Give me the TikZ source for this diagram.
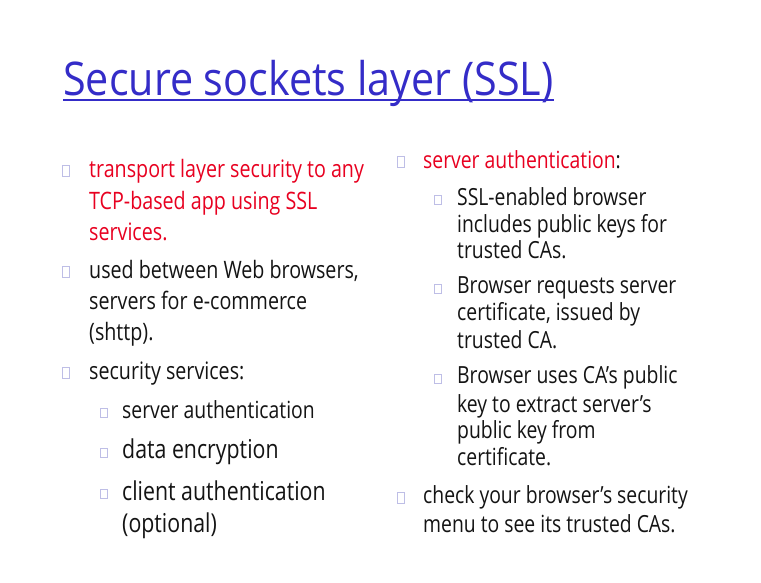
\documentclass[tikz,border=0pt]{standalone}
\usepackage{fontspec}
\newfontfamily\titlefont[FakeStretch=0.89]{Open Sans}
\newfontfamily\bodyfont[FakeStretch=0.82]{Open Sans}
\definecolor{titleblue}{RGB}{52,44,200}
\definecolor{slidered}{RGB}{232,0,32}
\definecolor{bodyblack}{RGB}{20,20,20}
\definecolor{bulletcol}{RGB}{190,190,230}
\tikzset{
  ln/.style={anchor=base west, inner sep=0pt, text=bodyblack},
  lA/.style={ln, font=\bodyfont\fontsize{24}{28}\selectfont},
  lB/.style={ln, font=\bodyfont\fontsize{23.6}{28}\selectfont},
  lC/.style={ln, font=\bodyfont\fontsize{26}{30}\selectfont},
  bulA/.style={draw=bulletcol, line width=0.7pt, minimum width=7.5pt, minimum height=10.5pt, inner sep=0pt},
  bulB/.style={draw=bulletcol, line width=0.7pt, minimum width=6.5pt, minimum height=9pt, inner sep=0pt},
}
\begin{document}
\begin{tikzpicture}[x=1pt,y=-1pt]
\useasboundingbox[fill=white] (0,0) rectangle (761,582);
% title
\node[anchor=base west, inner sep=0pt, text=titleblue, font=\titlefont\fontsize{46.4}{52}\selectfont] (title) at (63,95) {Secure sockets layer (SSL)};
\draw[titleblue, line width=1.6pt] ([yshift=-5pt]title.base west) -- ([yshift=-5pt]title.base east);
% left column
\node[bulA] (bl1) at (66,171) {};
\node[lA, text=slidered] (l1) at (89,177) {transport layer security to any};
\node[lA, text=slidered] (l2) at (89,209) {TCP-based app using SSL};
\node[lA, text=slidered] (l3) at (89,240) {services.};
\node[bulA] (bl2) at (66,272) {};
\node[lA] (l4) at (89,278) {used between Web browsers,};
\node[lA] (l5) at (89,309) {servers for e-commerce};
\node[lA] (l6) at (89,340) {(shttp).};
\node[bulA] (bl3) at (66,373) {};
\node[lA] (l7) at (89,379) {security services:};
\node[bulB] (bs1) at (104,413) {};
\node[lB] (l8) at (122,418) {server authentication};
\node[bulB] (bs2) at (104,453) {};
\node[lC] (l9) at (122,458) {data encryption};
\node[bulB] (bs3) at (104,494) {};
\node[lC] (l10) at (122,500) {client authentication};
\node[lC] (l11) at (122,532) {(optional)};
% right column
\node[bulA] (br1) at (401,162) {};
\node[lB, text=slidered] (r1) at (423,168) {server authentication\textcolor{bodyblack}{:}};
\node[bulB] (bs4) at (438,200) {};
\node[lB] (r2) at (457,205) {SSL-enabled browser};
\node[lB] (r3) at (457,232) {includes public keys for};
\node[lB] (r4) at (457,258) {trusted CAs.};
\node[bulB] (bs5) at (438,289) {};
\node[lB] (r5) at (457,293) {Browser requests server};
\node[lB] (r6) at (457,320) {certificate, issued by};
\node[lB] (r7) at (457,348) {trusted CA.};
\node[bulB] (bs6) at (438,379) {};
\node[lB] (r8) at (457,383) {Browser uses CA’s public};
\node[lB] (r9) at (457,412) {key to extract server’s};
\node[lB] (r10) at (457,438) {public key from};
\node[lB] (r11) at (457,465) {certificate.};
\node[bulA] (br2) at (401,498) {};
\node[lB] (r12) at (423,503) {check your browser’s security};
\node[lB] (r13) at (423,532) {menu to see its trusted CAs.};
\end{tikzpicture}
\end{document}
